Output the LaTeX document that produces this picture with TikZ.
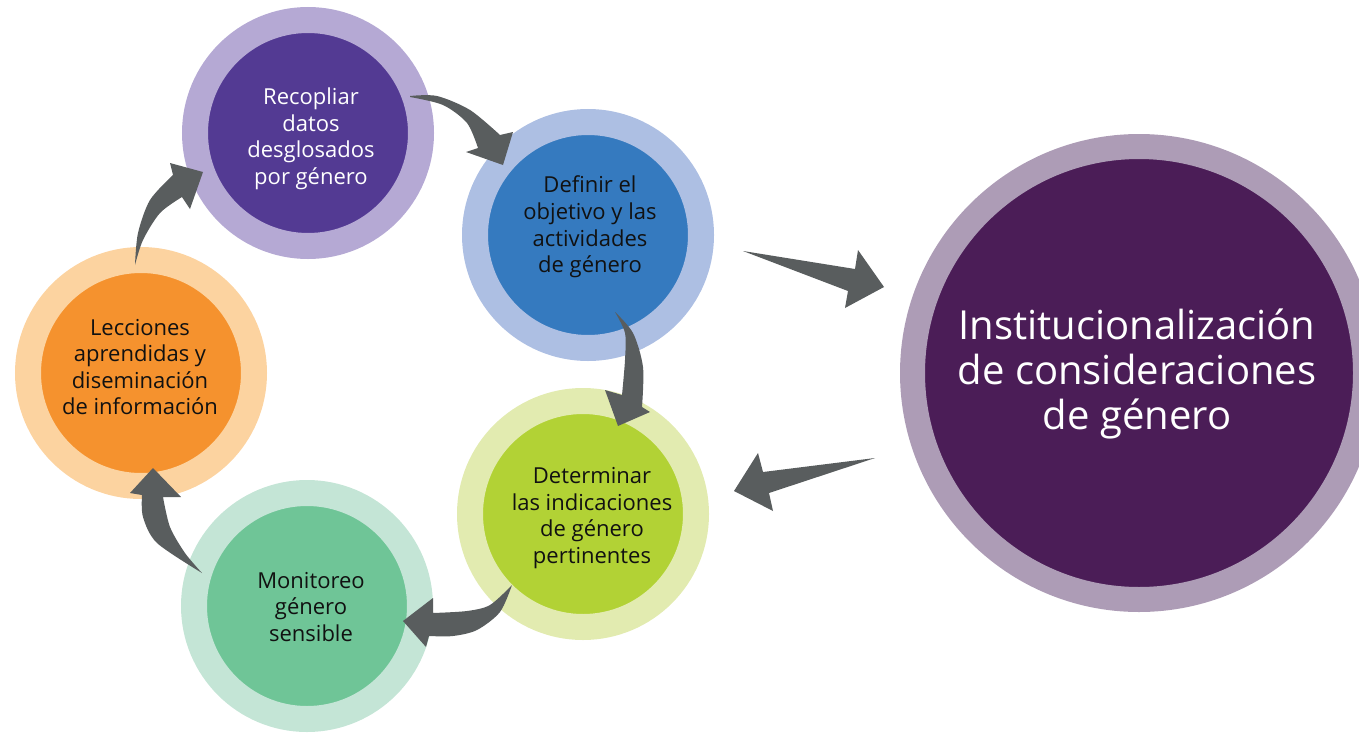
\documentclass[tikz,border=0pt]{standalone}
\usepackage{fontspec}
\setmainfont{Open Sans}
\definecolor{arrowc}{HTML}{595D5E}
\definecolor{purpR}{HTML}{B5A9D4}\definecolor{purpI}{HTML}{533A93}
\definecolor{blueR}{HTML}{ADBFE3}\definecolor{blueI}{HTML}{357ABF}
\definecolor{greenR}{HTML}{E2EBB0}\definecolor{greenI}{HTML}{B2D235}
\definecolor{mintR}{HTML}{C4E5D6}\definecolor{mintI}{HTML}{6FC597}
\definecolor{oranR}{HTML}{FCD3A0}\definecolor{oranI}{HTML}{F5922E}
\definecolor{bigR}{HTML}{AD9CB6}\definecolor{bigI}{HTML}{4B1D57}
\definecolor{txt}{HTML}{111111}
\begin{document}
\begin{tikzpicture}[x=0.75pt,y=-0.75pt,
  ringnode/.style 2 args={circle, fill=#1, draw=#2, line width=19.5pt, minimum size=169.5pt, inner sep=0pt},
  lbl/.style={align=center, font=\fontsize{16.5pt}{19.9pt}\selectfont, text=txt, inner sep=0pt},
  blockarrow/.style={fill=arrowc}]
\useasboundingbox (0,0) rectangle (1359,732);
% circles
\node[ringnode={purpI}{purpR}] (c1) at (308,133) {};
\node[ringnode={blueI}{blueR}] (c2) at (588,235) {};
\node[ringnode={greenI}{greenR}] (c3) at (583,514) {};
\node[ringnode={mintI}{mintR}] (c4) at (307,606) {};
\node[ringnode={oranI}{oranR}] (c5) at (141,373) {};
\node[circle, fill=bigI, draw=bigR, line width=18.75pt, minimum size=339.75pt, inner sep=0pt] (big) at (1139,373) {};
% labels
\node[lbl, text=white] (t1) at (311,139) {Recopliar\\datos\\desglosados\\por género};
\node[lbl] (t2) at (590,227) {Definir el\\objetivo y las\\actividades\\de género};
\node[lbl] (t3) at (592,518) {Determinar\\las indicaciones\\de género\\pertinentes};
\node[lbl] (t4) at (311,607) {Monitoreo\\género\\sensible};
\node[lbl] (t5) at (140,367) {Lecciones\\aprendidas y\\diseminación\\de información};
\node[align=center, text=white, inner sep=0pt, font=\fontsize{30pt}{34pt}\selectfont] (tb) at (1137,374) {Institucionalización\\de consideraciones\\de género};
% arrows
% c1 -> c2
\fill[blockarrow] plot[smooth] coordinates {(410,96) (437,96) (470,110) (500,135)}
  -- (513,132) -- (503,165) -- (466,152)
  -- plot[smooth] coordinates {(478,148) (467,123) (443,105) (410,97)} -- cycle;
% c2 -> c3
\fill[blockarrow] plot[smooth] coordinates {(615,312) (633,333) (643,367) (642,407)}
  -- (650,412) -- (618,426) -- (605,390)
  -- plot[smooth] coordinates {(622,395) (625,360) (625,333) (615,312)} -- cycle;
% c2 -> big
\fill[blockarrow] (743,251) -- (855,269) -- (858,250) -- (884,287) -- (845,308) -- (848,291) -- cycle;
% big -> c3
\fill[blockarrow] (875,458) -- (763,472) -- (758,453) -- (734,491) -- (773,511) -- (769,493) -- cycle;
% c3 -> c4
\fill[blockarrow] plot[smooth] coordinates {(512,585) (490,605) (467,611) (433,613)}
  -- (433,598) -- (403,621) -- (426,647)
  -- plot[smooth] coordinates {(429,636) (453,636) (477,630) (500,612) (512,585)} -- cycle;
% c4 -> c5
\fill[blockarrow] plot[smooth] coordinates {(202,573) (157,543) (143,517) (142,495)}
  -- (130,493) -- (153,468) -- (181,497)
  -- plot[smooth] coordinates {(163,497) (170,527) (185,553) (202,573)} -- cycle;
% c5 -> c1
\fill[blockarrow] plot[smooth] coordinates {(135,265) (138,233) (150,200) (173,175)}
  -- (170,163) -- (203,172) -- (190,209)
  -- plot[smooth] coordinates {(182,197) (160,213) (143,240) (135,265)} -- cycle;
\end{tikzpicture}
\end{document}
